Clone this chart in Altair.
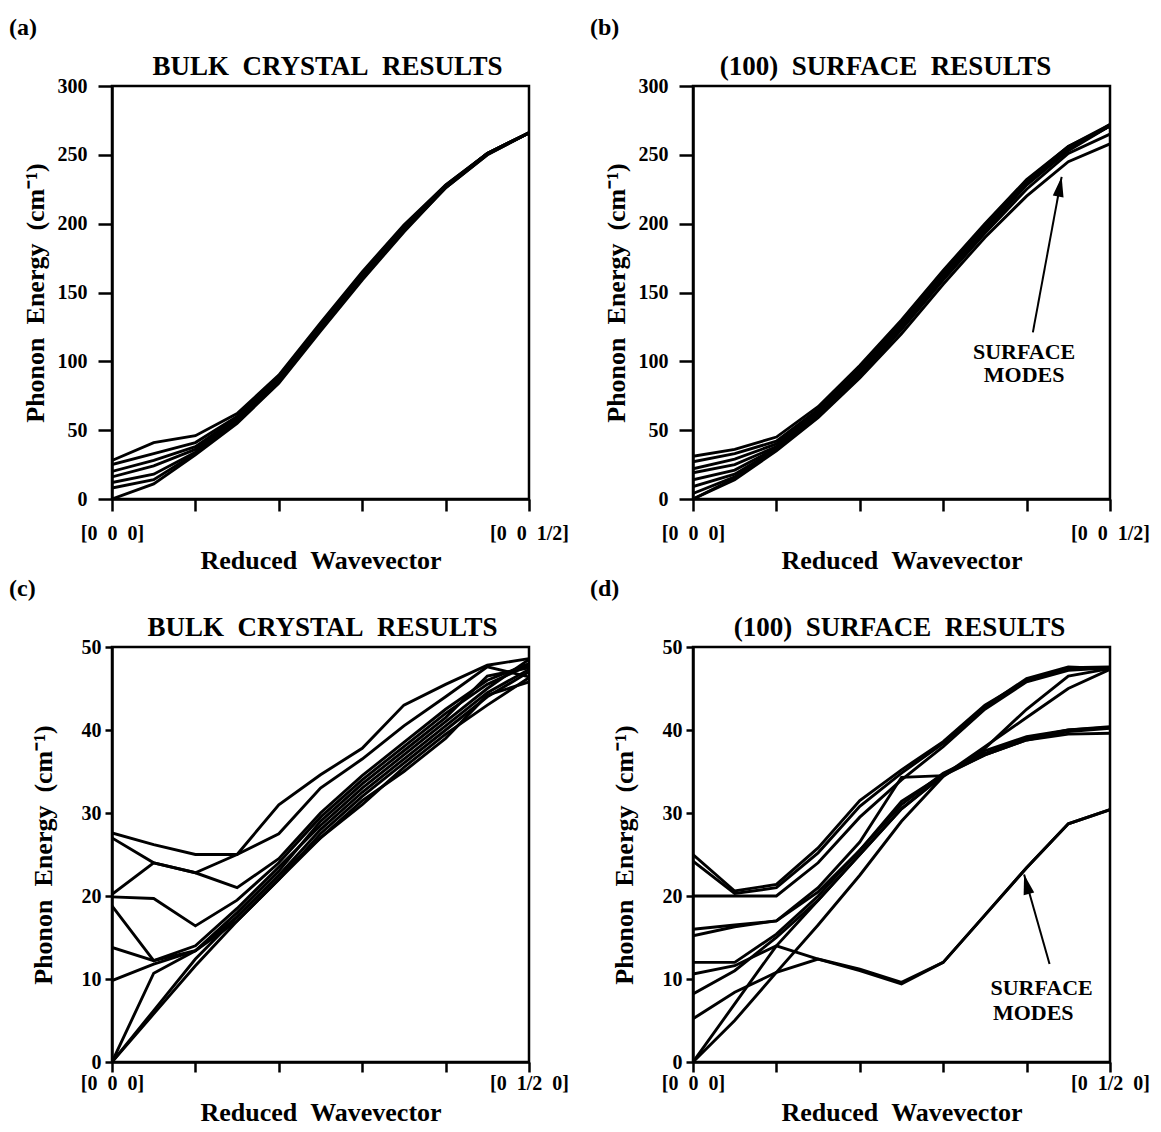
import altair as alt
import pandas as pd

SERIF = "Liberation Serif"

# reduced wavevector sampling points (fraction of the zone)
Q = [0.0, 0.05, 0.10, 0.15, 0.20, 0.25, 0.30, 0.35, 0.40, 0.45, 0.50]
X_TICKS = [0.0, 0.1, 0.2, 0.3, 0.4, 0.5]

# (a) bulk crystal, [0 0 q] direction, energies in cm^-1
BULK_00Q = [
    [28, 41, 46, 62, 90, 128, 165, 199, 228, 251, 266],
    [25, 33, 41, 60, 89, 127, 164, 198, 228, 251, 266],
    [20, 28, 38, 59, 88, 126, 163, 197, 227, 251, 266],
    [16, 24, 36, 58, 87, 125, 162, 196, 227, 251, 266],
    [12, 18, 34, 57, 86, 124, 161, 196, 227, 251, 266],
    [8, 14, 33, 56, 85, 123, 160, 195, 226, 250, 266],
    [0, 11, 32, 55, 84, 122, 159, 194, 226, 250, 266],
]

# (b) (100) surface slab, [0 0 q] direction
SURF_00Q = [
    [31, 36, 45, 67, 97, 130, 166, 200, 232, 256, 272],
    [27, 33, 42, 65, 95, 129, 165, 199, 231, 256, 271],
    [22, 29, 40, 64, 94, 128, 164, 198, 231, 255, 271],
    [19, 25, 38, 63, 93, 127, 163, 198, 230, 255, 271],
    [14, 21, 37, 62, 92, 126, 163, 197, 230, 254, 271],
    [9, 18, 36, 61, 91, 125, 162, 196, 229, 254, 272],
    [4, 16, 36, 60, 90, 124, 161, 195, 228, 253, 271],
    [0, 14, 35, 59, 88, 120, 156, 190, 220, 245, 258],
    [0, 15, 36, 60, 89, 123, 159, 193, 225, 251, 265],
]

# (c) bulk crystal, [0 q 0] direction
BULK_0Q0 = [
    [27.6, 26.2, 25.0, 25.0, 31.0, 34.6, 37.8, 43.0, 45.5, 47.8, 48.6],
    [27.0, 24.0, 22.8, 25.0, 27.5, 33.0, 36.5, 40.5, 44.0, 47.6, 46.4],
    [20.2, 24.0, 22.8, 21.0, 24.5, 30.0, 34.5, 38.5, 42.5, 46.0, 48.0],
    [19.9, 19.7, 16.4, 19.5, 24.0, 29.5, 34.0, 38.0, 42.0, 45.5, 47.8],
    [18.8, 12.2, 13.4, 18.0, 23.0, 29.0, 33.5, 37.5, 41.5, 46.5, 47.5],
    [13.8, 12.2, 14.0, 18.5, 23.5, 28.5, 33.0, 37.0, 41.0, 45.0, 48.5],
    [9.8, 11.8, 13.4, 17.5, 22.5, 28.0, 32.5, 36.5, 40.5, 44.5, 47.3],
    [0.0, 10.7, 13.4, 17.0, 22.0, 27.5, 32.0, 36.0, 40.0, 44.0, 47.0],
    [0.0, 5.8, 11.6, 17.0, 22.0, 27.0, 31.5, 35.0, 39.0, 44.2, 45.8],
    [0.0, 6.2, 12.4, 17.5, 22.5, 27.0, 31.0, 35.5, 39.5, 43.0, 46.3],
]

# (d) (100) surface slab, [0 q 0] direction
SURF_0Q0 = [
    [25.0, 20.6, 21.4, 25.8, 31.5, 35.2, 38.6, 43.0, 46.0, 47.5, 47.6],
    [24.2, 20.3, 21.0, 25.2, 30.8, 34.8, 38.4, 42.8, 46.2, 47.6, 47.4],
    [20.0, 20.0, 20.0, 24.0, 29.5, 34.0, 38.0, 42.5, 45.8, 47.2, 47.5],
    [16.0, 16.5, 17.0, 21.0, 26.5, 34.3, 34.5, 37.0, 38.8, 39.8, 40.2],
    [15.2, 16.3, 17.0, 20.5, 25.5, 31.4, 34.6, 37.0, 38.8, 39.5, 39.6],
    [12.0, 12.0, 15.4, 20.0, 25.5, 31.0, 34.8, 37.2, 39.0, 40.0, 40.4],
    [10.6, 11.6, 14.0, 12.4, 11.0, 9.4, 12.0, 17.7, 23.4, 28.7, 30.4],
    [5.2, 8.4, 10.8, 12.4, 11.2, 9.6, 12.0, 17.7, 23.4, 28.7, 30.4],
    [8.2, 11.0, 15.0, 19.5, 25.0, 30.5, 34.5, 38.0, 41.5, 45.0, 47.3],
    [0.0, 7.0, 14.0, 19.5, 25.0, 30.5, 34.6, 37.5, 39.2, 40.0, 40.3],
    [0.0, 5.0, 10.8, 16.5, 22.5, 29.0, 34.4, 37.8, 42.5, 46.5, 47.4],
]

# "SURFACE MODES" call-outs: arrow tail, arrow tip, label anchors (data units)
ARROW_B = {"q": [0.4075], "E": [121], "q2": [0.442], "E2": [234], "angle": [10]}
LABEL_B = {"q": [0.397, 0.397], "E": [106.5, 90], "t": ["SURFACE", "MODES"]}
ARROW_D = {"q": [0.4275], "E": [11.8], "q2": [0.397], "E2": [22.6], "angle": [346]}
LABEL_D = {"q": [0.418, 0.408], "E": [8.9, 5.9], "t": ["SURFACE", "MODES"]}

NB = "\u00a0"
ARROW_HEAD = "M0,0L0.6,2.2L-0.6,2.2Z"
PANEL_W = 417


def branches_frame(branches):
    rows = []
    for i, energies in enumerate(branches):
        for q, e in zip(Q, energies):
            rows.append({"q": q, "E": e, "branch": i})
    return pd.DataFrame(rows)


def caption(text, x, y, size, align):
    return alt.Chart(pd.DataFrame({"t": [text]})).mark_text(
        font=SERIF, fontSize=size, fontWeight="bold", color="black",
        align=align, baseline="alphabetic",
    ).encode(x=alt.value(x), y=alt.value(y), text="t:N")


def panel(branches, ymax, ystep, tag, title, end_label, top_row,
          title_dx=0, arrow=None, label=None):
    height = 413 if top_row else 415
    x_scale = alt.Scale(domain=[0, 0.5], nice=False, zero=False)
    y_scale = alt.Scale(domain=[0, ymax], nice=False)

    start = f"[0{NB}{NB}0{NB}{NB}0]"
    label_expr = (f"datum.value == 0 ? '{start}' : "
                  f"(datum.value == 0.5 ? '{end_label}' : '')")
    x_axis = alt.Axis(values=X_TICKS, labelExpr=label_expr,
                      title=f"Reduced{NB}{NB}Wavevector",
                      tickSize=12 if top_row else 10,
                      labelPadding=12 if top_row else 1,
                      titlePadding=4 if top_row else 6,
                      labelFlush=False, labelOverlap=False)
    y_axis = alt.Axis(values=list(range(0, ymax + 1, ystep)),
                      title=f"Phonon{NB}{NB}Energy{NB}{NB}(cm\u207b\u00b9)",
                      tickSize=14 if top_row else 7,
                      labelPadding=11 if top_row else 4,
                      minExtent=58 if top_row else 48,
                      maxExtent=58 if top_row else 48,
                      titlePadding=6 if top_row else 8)

    lines = alt.Chart(branches_frame(branches)).mark_line(
        color="black", strokeWidth=2.9, clip=True
    ).encode(
        x=alt.X("q:Q", scale=x_scale, axis=x_axis),
        y=alt.Y("E:Q", scale=y_scale, axis=y_axis),
        detail="branch:N",
    )

    layers = [lines]

    if arrow is not None:
        adf = pd.DataFrame(arrow)
        shaft = alt.Chart(adf).mark_rule(color="black", strokeWidth=2).encode(
            x=alt.X("q:Q", scale=x_scale), y=alt.Y("E:Q", scale=y_scale),
            x2="q2:Q", y2="E2:Q",
        )
        head = alt.Chart(adf).mark_point(
            shape=ARROW_HEAD, filled=True, color="black", opacity=1,
            size=330, strokeWidth=0,
        ).encode(
            x=alt.X("q2:Q", scale=x_scale), y=alt.Y("E2:Q", scale=y_scale),
            angle=alt.Angle("angle:Q", scale=None),
        )
        layers += [shaft, head]

    if label is not None:
        words = alt.Chart(pd.DataFrame(label)).mark_text(
            font=SERIF, fontSize=22, fontWeight="bold", color="black",
            align="center", baseline="middle",
        ).encode(
            x=alt.X("q:Q", scale=x_scale), y=alt.Y("E:Q", scale=y_scale),
            text="t:N",
        )
        layers.append(words)

    # panel heading and the (a)-(d) tag, placed relative to the plot area
    layers.append(caption(title, PANEL_W / 2 + title_dx, -11, 27, "center"))
    layers.append(caption(tag, -103, -51, 24, "left"))

    return alt.layer(*layers).properties(width=PANEL_W, height=height)


p_a = panel(BULK_00Q, 300, 50, "(a)", f"BULK{NB}{NB}CRYSTAL{NB}{NB}RESULTS",
            f"[0{NB}{NB}0{NB}{NB}1/2]", True, title_dx=7)
p_b = panel(SURF_00Q, 300, 50, "(b)", f"(100){NB}{NB}SURFACE{NB}{NB}RESULTS",
            f"[0{NB}{NB}0{NB}{NB}1/2]", True, title_dx=-16,
            arrow=ARROW_B, label=LABEL_B)
p_c = panel(BULK_0Q0, 50, 10, "(c)", f"BULK{NB}{NB}CRYSTAL{NB}{NB}RESULTS",
            f"[0{NB}{NB}1/2{NB}{NB}0]", False, title_dx=2)
p_d = panel(SURF_0Q0, 50, 10, "(d)", f"(100){NB}{NB}SURFACE{NB}{NB}RESULTS",
            f"[0{NB}{NB}1/2{NB}{NB}0]", False, title_dx=-2,
            arrow=ARROW_D, label=LABEL_D)

chart = alt.concat(
    p_a, p_b, p_c, p_d, columns=2,
    spacing={"row": 148, "column": 164}, bounds="flush",
).properties(
    padding={"left": 7, "top": 14, "right": 5, "bottom": 5},
    background="white",
).configure_view(
    stroke="black", strokeWidth=2.5,
).configure_axis(
    grid=False, domainColor="black", domainWidth=2.5,
    tickColor="black", tickWidth=2.5,
    labelFont=SERIF, labelFontSize=20, labelFontWeight="bold", labelColor="black",
    titleFont=SERIF, titleFontSize=26, titleFontWeight="bold", titleColor="black",
)

chart.save("out.html", embed_options={"renderer": "svg", "actions": False})
